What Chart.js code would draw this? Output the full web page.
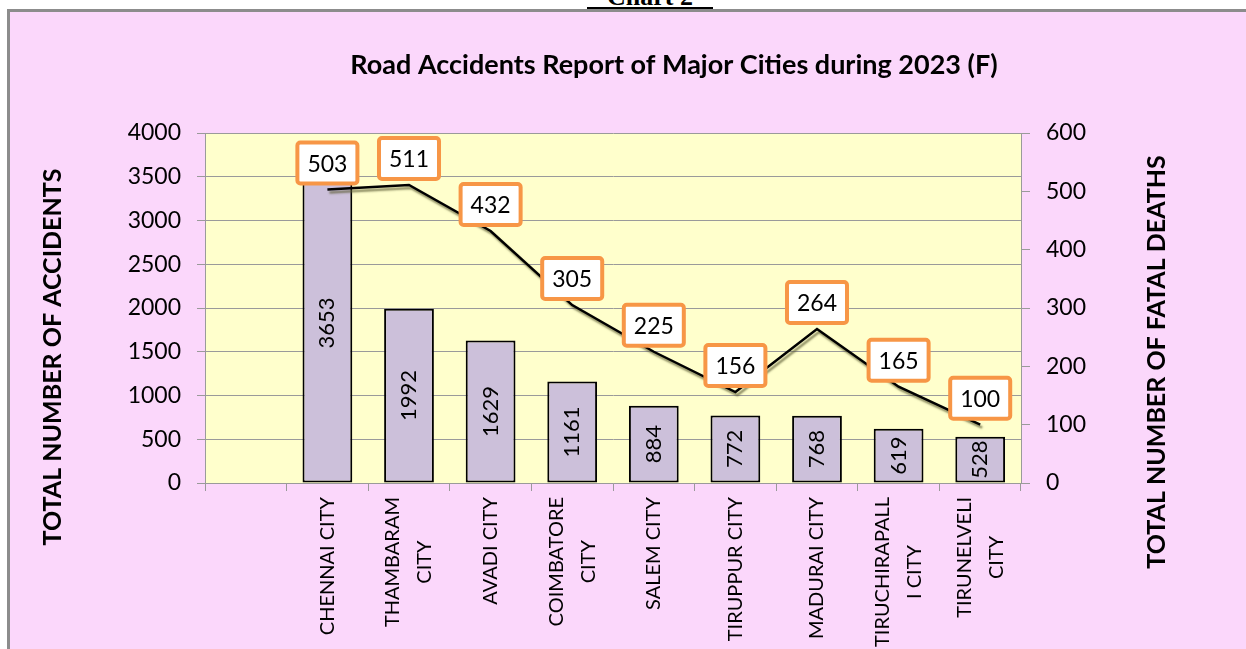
<!DOCTYPE html>
<html>
<head>
<meta charset="utf-8">
<script src="https://cdn.jsdelivr.net/npm/chart.js@4.4.1/dist/chart.umd.min.js"></script>
<style>
  html, body { margin: 0; padding: 0; background: #fff; width: 1246px; height: 649px; overflow: hidden; position: relative; }
  #heading { position: absolute; left: 587px; top: -18px; width: 126px; height: 25px; line-height: 25px;
             border-bottom: 2px solid #000; font: bold 26px "Liberation Serif"; text-align: center; }
  #frame { position: absolute; left: 7px; top: 9px; width: 1260px; height: 660px;
           border-top: 3px solid #8c8c8c; border-left: 3px solid #8c8c8c; background: #fbd7fb; }
  #chart { position: absolute; left: 0; top: 0; }
</style>
</head>
<body>
<div id="heading">Chart 2</div>
<div id="frame"></div>
<canvas id="chart" width="1246" height="649"></canvas>
<script>
// Veriler
const cities = ['', ['CHENNAI CITY'], ['THAMBARAM', 'CITY'], ['AVADI CITY'], ['COIMBATORE', 'CITY'],
                ['SALEM CITY'], ['TIRUPPUR CITY'], ['MADURAI CITY'], ['TIRUCHIRAPALL', 'I CITY'], ['TIRUNELVELI', 'CITY']];
const accidents = [null, 3653, 1992, 1629, 1161, 884, 772, 768, 619, 528];
const fatalDeaths = [null, 503, 511, 432, 305, 225, 156, 264, 165, 100];
const chartTitle = 'Road Accidents Report of Major Cities during 2023 (F)';
const leftTitle = 'TOTAL NUMBER OF ACCIDENTS';
const rightTitle = 'TOTAL NUMBER OF FATAL DEATHS';

const FONT = 'Lato';

// Çizim alanı arka planı
const plotBg = {
    id: 'plotBg',
    beforeDraw(chart) {
        const { ctx, chartArea: a } = chart;
        ctx.save();
        ctx.fillStyle = '#ffffcc';
        ctx.fillRect(a.left, a.top, a.right - a.left, a.bottom - a.top);
        ctx.restore();
    }
};

// Çizginin gölgesi
const lineShadow = {
    id: 'lineShadow',
    beforeDatasetDraw(chart, args) {
        if (chart.data.datasets[args.index].type !== 'line') return;
        const ctx = chart.ctx;
        ctx.save();
        ctx.shadowColor = 'rgba(90, 90, 50, 0.7)';
        ctx.shadowOffsetX = 2;
        ctx.shadowOffsetY = 3;
        ctx.shadowBlur = 2;
    },
    afterDatasetDraw(chart, args) {
        if (chart.data.datasets[args.index].type !== 'line') return;
        chart.ctx.restore();
    }
};

// Değer etiketleri
const valueLabels = {
    id: 'valueLabels',
    afterDatasetsDraw(chart) {
        const ctx = chart.ctx;
        chart.data.datasets.forEach((ds, di) => {
            const meta = chart.getDatasetMeta(di);
            meta.data.forEach((el, i) => {
                const v = ds.data[i];
                if (v === null || v === undefined) return;
                ctx.save();
                if (ds.type === 'bar') {
                    ctx.font = `22px ${FONT}`;
                    ctx.fillStyle = '#000';
                    ctx.textAlign = 'center';
                    ctx.textBaseline = 'middle';
                    ctx.translate(el.x, (el.y + el.base) / 2);
                    ctx.rotate(-Math.PI / 2);
                    ctx.fillText(String(v), 0, 0);
                } else {
                    ctx.font = `23px ${FONT}`;
                    const tw = ctx.measureText(String(v)).width;
                    const w = tw + 20, h = 41;
                    const x = el.x - w / 2, y = el.y - 6 - h;
                    ctx.fillStyle = '#fff';
                    ctx.strokeStyle = '#f79646';
                    ctx.lineWidth = 4;
                    ctx.beginPath();
                    ctx.roundRect(x, y, w, h, 3);
                    ctx.fill();
                    ctx.stroke();
                    ctx.fillStyle = '#000';
                    ctx.textAlign = 'center';
                    ctx.textBaseline = 'middle';
                    ctx.fillText(String(v), el.x, y + h / 2 + 1);
                }
                ctx.restore();
            });
        });
    }
};

// Başlıklar ve x ekseni etiketleri
const texts = {
    id: 'texts',
    afterDraw(chart) {
        const ctx = chart.ctx;
        const xs = chart.scales.x;
        ctx.save();
        ctx.fillStyle = '#000';
        ctx.textAlign = 'center';
        ctx.textBaseline = 'middle';

        ctx.font = `bold 27px ${FONT}`;
        ctx.fillText(chartTitle, 674, 65);

        ctx.font = `bold 25px ${FONT}`;
        ctx.save();
        ctx.translate(53, 357);
        ctx.rotate(-Math.PI / 2);
        ctx.fillText(leftTitle, 0, 0);
        ctx.restore();
        ctx.save();
        ctx.translate(1157, 362);
        ctx.rotate(-Math.PI / 2);
        ctx.fillText(rightTitle, 0, 0);
        ctx.restore();

        ctx.font = `20px ${FONT}`;
        chart.data.labels.forEach((lab, i) => {
            const lines = Array.isArray(lab) ? lab : [lab];
            if (!lines[0]) return;
            const maxW = Math.max(...lines.map(l => ctx.measureText(l).width));
            const cx = xs.getPixelForValue(i);
            const cy = xs.top + 14 + maxW / 2;
            const lh = 32;
            lines.forEach((l, j) => {
                ctx.save();
                ctx.translate(cx + (j - (lines.length - 1) / 2) * lh, cy);
                ctx.rotate(-Math.PI / 2);
                ctx.fillText(l, 0, 0);
                ctx.restore();
            });
        });
        ctx.restore();
    }
};

const gridColor = '#9a9a9a';
const plainTick = v => String(v);

new Chart(document.getElementById('chart'), {
    data: {
        labels: cities,
        datasets: [
            {
                type: 'line',
                label: 'Fatal deaths',
                data: fatalDeaths,
                yAxisID: 'y1',
                borderColor: '#000',
                borderWidth: 2.5,
                pointRadius: 0,
                tension: 0,
                order: 0
            },
            {
                type: 'bar',
                label: 'Accidents',
                data: accidents,
                yAxisID: 'y',
                backgroundColor: '#ccc0da',
                borderColor: '#000',
                borderWidth: 2,
                borderSkipped: false,
                categoryPercentage: 1,
                barPercentage: 0.61,
                order: 1
            }
        ]
    },
    options: {
        responsive: false,
        animation: false,
        layout: { padding: { top: 133, left: 0, right: 0, bottom: 0 } },
        plugins: {
            legend: { display: false },
            title: { display: false },
            tooltip: { enabled: false }
        },
        scales: {
            x: {
                type: 'category',
                offset: true,
                grid: { offset: true, drawOnChartArea: false, drawTicks: true, tickLength: 8, color: gridColor },
                border: { color: gridColor },
                ticks: { display: false },
                afterFit(s) { s.height = 166; }
            },
            y: {
                position: 'left',
                min: 0,
                max: 4000,
                ticks: { stepSize: 500, padding: 16, color: '#000', font: { family: FONT, size: 23 }, callback: plainTick },
                grid: { color: gridColor, tickLength: 8 },
                border: { color: gridColor },
                afterFit(s) { s.width = 205; }
            },
            y1: {
                position: 'right',
                min: 0,
                max: 600,
                ticks: { stepSize: 100, padding: 16, color: '#000', font: { family: FONT, size: 23 }, callback: plainTick },
                grid: { drawOnChartArea: false, tickLength: 9, color: gridColor },
                border: { color: gridColor },
                afterFit(s) { s.width = 225; }
            }
        }
    },
    plugins: [plotBg, lineShadow, valueLabels, texts]
});
</script>
</body>
</html>
